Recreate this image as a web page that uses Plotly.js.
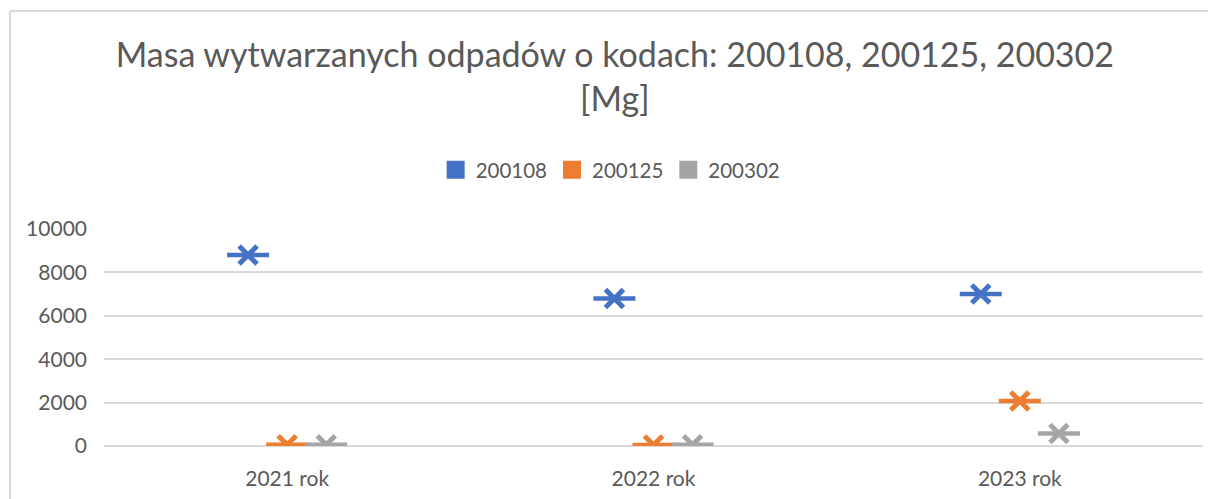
<!DOCTYPE html>
<html>
<head>
<meta charset="utf-8">
<script src="https://cdn.plot.ly/plotly-3.0.1.min.js"></script>
<style>html,body{margin:0;padding:0;background:#fff;}#chart{width:1208px;height:499px;}</style>
</head>
<body>
<div id="chart"></div>
<script>
const categories = ["2021 rok", "2022 rok", "2023 rok"];
const seriesNames = ["200108", "200125", "200302"];
const values200108 = [8800, 6800, 7000];
const values200125 = [60, 50, 2070];
const values200302 = [60, 60, 580];
const yTicks = [0, 2000, 4000, 6000, 8000, 10000];

const colors = ["#4472C4", "#ED7D31", "#A5A5A5"];
const allValues = [values200108, values200125, values200302];
const FONT = "Lato, 'Open Sans', sans-serif";

const traces = [];
allValues.forEach((vals, i) => {
  traces.push({
    type: "scatter", mode: "markers", x: categories, y: vals,
    offsetgroup: "g" + i, showlegend: false, hoverinfo: "skip",
    marker: {symbol: "line-ew-open", size: 30, color: colors[i], line: {color: colors[i], width: 4.5}}
  });
  traces.push({
    type: "scatter", mode: "markers", x: categories, y: vals,
    offsetgroup: "g" + i, showlegend: false, name: seriesNames[i],
    marker: {symbol: "x-thin-open", size: 18, color: colors[i], line: {color: colors[i], width: 5}}
  });
});
// legend-only entries (square swatches) on a hidden overlay axis
seriesNames.forEach((n, i) => {
  traces.push({
    type: "scatter", mode: "markers", x: [null], y: [null], name: n,
    xaxis: "x2", showlegend: true,
    marker: {symbol: "square", size: 16, color: colors[i], line: {color: colors[i], width: 2}}
  });
});

const yTop = (446 - 11) / 217;
const xLeft = (10 - 104) / 1099;

const layout = {
  width: 1208, height: 499,
  paper_bgcolor: "#fff", plot_bgcolor: "#fff",
  margin: {l: 104, r: 5, t: 229, b: 53},
  font: {family: FONT, color: "#595959", size: 21},
  title: {
    text: "Masa wytwarzanych odpadów o kodach: 200108, 200125, 200302<br>[Mg]",
    font: {family: FONT, size: 34, color: "#595959"},
    xref: "container", x: 0.509, xanchor: "center",
    yref: "container", y: 0.866, yanchor: "top"
  },
  scattermode: "group", scattergap: 0.68,
  showlegend: true,
  legend: {
    orientation: "h", x: 0.5055, xanchor: "center", xref: "container",
    y: 1 - 170/499, yanchor: "middle", yref: "container",
    font: {size: 20.5, color: "#595959"}, itemwidth: 30, traceorder: "normal"
  },
  xaxis: {
    type: "category", showgrid: false, zeroline: false, showline: false,
    ticks: "", ticklabelstandoff: 18, tickfont: {size: 21, color: "#595959"}, fixedrange: true
  },
  xaxis2: {overlaying: "x", visible: false, range: [0, 1]},
  yaxis: {
    range: [0, 10000], tickvals: yTicks, ticktext: yTicks.map(String),
    showgrid: true, gridcolor: "#D9D9D9", gridwidth: 2, zeroline: true,
    zerolinecolor: "#D9D9D9", zerolinewidth: 2, showline: false,
    ticks: "", ticklabelstandoff: 16, tickfont: {size: 21, color: "#595959"}
  },
  shapes: [
    {type: "line", xref: "paper", yref: "paper",
     x0: xLeft, x1: (1215 - 104) / 1099, y0: yTop, y1: yTop,
     line: {color: "#D9D9D9", width: 2}},
    {type: "line", xref: "paper", yref: "paper",
     x0: xLeft, x1: xLeft, y0: yTop, y1: -1,
     line: {color: "#D9D9D9", width: 2}}
  ]
};

Plotly.newPlot("chart", traces, layout, {displayModeBar: false, staticPlot: true});
</script>
</body>
</html>
